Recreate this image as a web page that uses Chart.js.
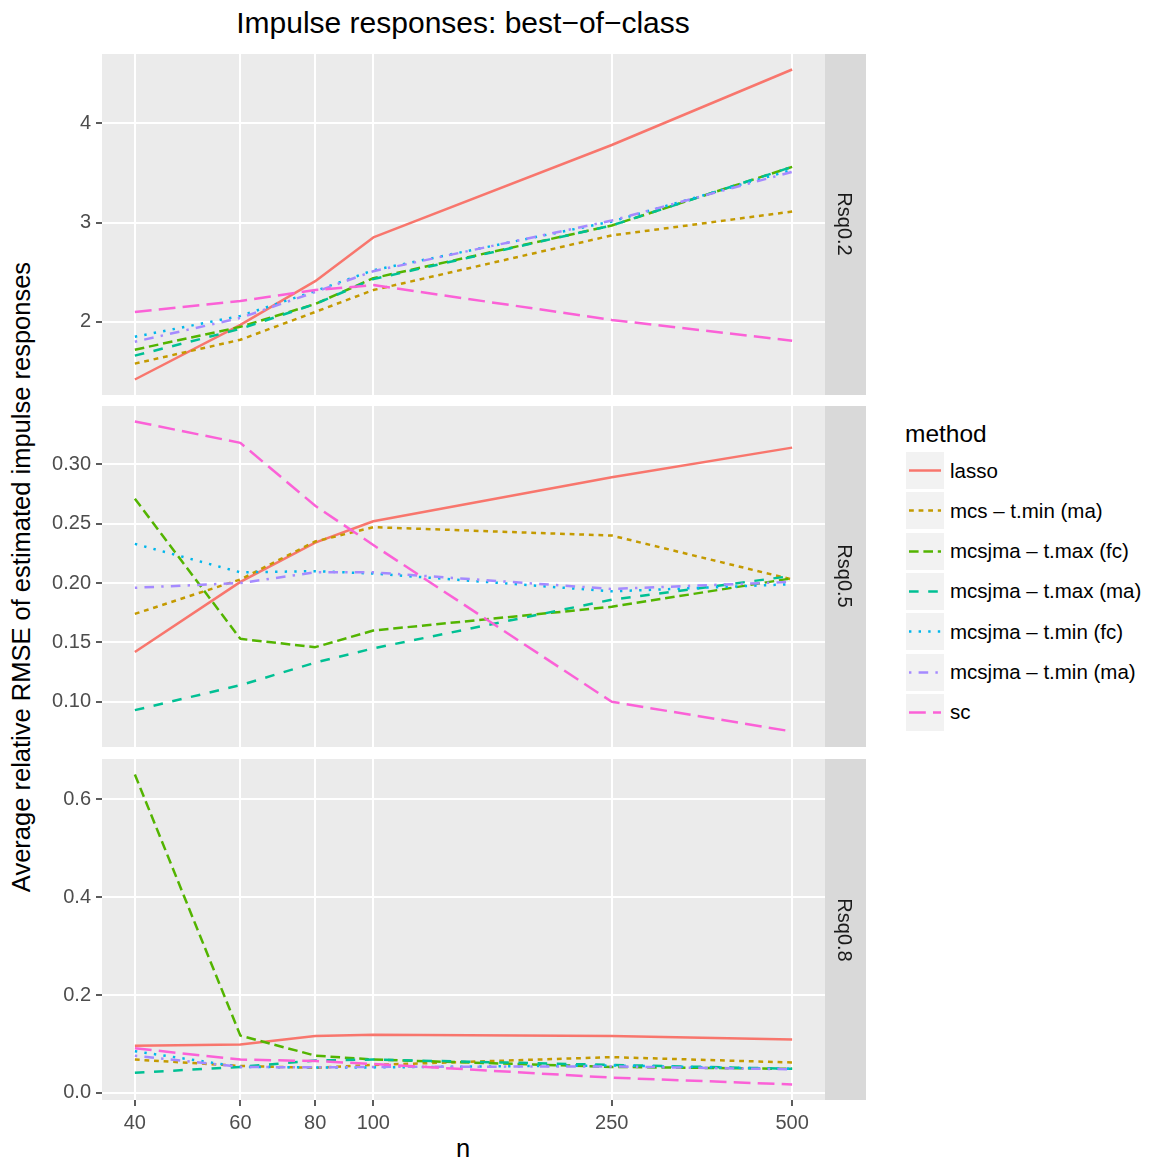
<!DOCTYPE html>
<html>
<head>
<meta charset="utf-8">
<title>Impulse responses: best-of-class</title>
<script src="https://cdn.jsdelivr.net/npm/chart.js@4.4.1/dist/chart.umd.min.js"></script>
<style>
  html, body { margin: 0; padding: 0; background: #fff; }
  body {
    width: 1155px; height: 1163px; position: relative; overflow: hidden;
    font-family: "Liberation Sans", Arial, Helvetica, sans-serif;
  }
  canvas { position: absolute; left: 0; }
  .txt { position: absolute; white-space: nowrap; line-height: 1; }
  .mid { transform: translate(-50%, -50%); }
  .title { font-size: 30px; color: #000; }
  .axis-title { font-size: 25.5px; color: #000; }
  .strip { font-size: 20px; color: #1a1a1a; transform: translate(-50%, -50%) rotate(90deg); }
  .key { position: absolute; width: 38px; height: 37px; background: #f2f2f2; }
  .key svg { position: absolute; left: 0; top: 0; }
  .lab { font-size: 20.5px; color: #000; transform: translateY(-50%); }
</style>
</head>
<body>

<div class="txt mid title" style="left:463px; top:23px;">Impulse responses: best−of−class</div>
<div class="txt axis-title" style="left:22px; top:577px; transform: translate(-50%, -50%) rotate(-90deg);">Average relative RMSE of estimated impulse responses</div>
<div class="txt mid axis-title" style="left:463px; top:1149px;">n</div>

<canvas id="p1" width="866" height="341" style="top:54px;"></canvas>
<canvas id="p2" width="866" height="341" style="top:406px;"></canvas>
<canvas id="p3" width="866" height="396" style="top:759px;"></canvas>

<div class="txt strip" style="left:845px; top:224px;">Rsq0.2</div>
<div class="txt strip" style="left:845px; top:576px;">Rsq0.5</div>
<div class="txt strip" style="left:845px; top:930px;">Rsq0.8</div>

<div class="txt" style="left:905px; top:422px; font-size:24.5px;">method</div>
<div id="legend"></div>

<script>
/* ── data ─────────────────────────────────────────── */
var nVals = [40, 60, 80, 100, 250, 500];

var methods = [
  'lasso',
  'mcs – t.min (ma)',
  'mcsjma – t.max (fc)',
  'mcsjma – t.max (ma)',
  'mcsjma – t.min (fc)',
  'mcsjma – t.min (ma)',
  'sc'
];

// Rsq0.2
var rsq02Lasso  = [1.42, 1.97, 2.41, 2.85, 3.78, 4.54];
var rsq02Mcs    = [1.58, 1.82, 2.10, 2.32, 2.87, 3.11];
var rsq02MaxFc  = [1.72, 1.95, 2.18, 2.44, 2.97, 3.56];
var rsq02MaxMa  = [1.66, 1.93, 2.18, 2.43, 2.97, 3.56];
var rsq02MinFc  = [1.85, 2.06, 2.31, 2.52, 3.01, 3.53];
var rsq02MinMa  = [1.80, 2.04, 2.30, 2.51, 3.02, 3.51];
var rsq02Sc     = [2.10, 2.21, 2.32, 2.37, 2.02, 1.81];

// Rsq0.5
var rsq05Lasso  = [0.142, 0.201, 0.234, 0.252, 0.289, 0.314];
var rsq05Mcs    = [0.174, 0.203, 0.235, 0.247, 0.240, 0.203];
var rsq05MaxFc  = [0.271, 0.153, 0.146, 0.160, 0.180, 0.204];
var rsq05MaxMa  = [0.093, 0.114, 0.133, 0.145, 0.186, 0.206];
var rsq05MinFc  = [0.233, 0.209, 0.210, 0.208, 0.193, 0.199];
var rsq05MinMa  = [0.196, 0.200, 0.209, 0.209, 0.195, 0.201];
var rsq05Sc     = [0.336, 0.318, 0.265, 0.232, 0.100, 0.075];

// Rsq0.8
var rsq08Lasso  = [0.096, 0.099, 0.116, 0.119, 0.116, 0.109];
var rsq08Mcs    = [0.068, 0.055, 0.051, 0.057, 0.073, 0.062];
var rsq08MaxFc  = [0.651, 0.117, 0.076, 0.068, 0.053, 0.049];
var rsq08MaxMa  = [0.041, 0.053, 0.066, 0.068, 0.057, 0.049];
var rsq08MinFc  = [0.085, 0.053, 0.052, 0.052, 0.056, 0.049];
var rsq08MinMa  = [0.076, 0.053, 0.052, 0.053, 0.054, 0.048];
var rsq08Sc     = [0.091, 0.068, 0.065, 0.059, 0.031, 0.017];

// tick values and labels per panel
var yTicks02 = [2, 3, 4];
var yLabels02 = ['2', '3', '4'];
var yTicks05 = [0.10, 0.15, 0.20, 0.25, 0.30];
var yLabels05 = ['0.10', '0.15', '0.20', '0.25', '0.30'];
var yTicks08 = [0.0, 0.2, 0.4, 0.6];
var yLabels08 = ['0.0', '0.2', '0.4', '0.6'];

/* ── style ────────────────────────────────────────── */
var colors = ['#F8766D', '#C49A00', '#53B400', '#00C094', '#00B6EB', '#A58AFF', '#FB61D7'];
var u = 2.4; // dash unit
var dashes = [
  [],
  [2 * u, 2 * u],
  [4 * u, 2 * u],
  [4 * u, 4 * u],
  [1 * u, 3 * u],
  [1 * u, 3 * u, 4 * u, 3 * u],
  [7 * u, 3 * u]
];
var fontFamily = '"Liberation Sans", Arial, Helvetica, sans-serif';

// ggplot-like 5% expansion on log x
var xSpan = nVals[nVals.length - 1] / nVals[0];
var xMin = nVals[0] / Math.pow(xSpan, 0.05);
var xMax = nVals[nVals.length - 1] * Math.pow(xSpan, 0.05);

// grey panel + facet strip behind the lines
var panelBg = {
  id: 'panelBg',
  beforeDraw: function (chart) {
    var a = chart.chartArea, c = chart.ctx;
    c.save();
    c.fillStyle = '#EBEBEB';
    c.fillRect(a.left, a.top, a.right - a.left, a.bottom - a.top);
    c.fillStyle = '#D9D9D9';
    c.fillRect(a.right, a.top, 41, a.bottom - a.top);
    c.restore();
  }
};

function makePanel(id, series, yTicks, yLabels, showX) {
  var all = [].concat.apply([], series);
  var lo = Math.min.apply(null, all);
  var hi = Math.max.apply(null, all);
  var pad = (hi - lo) * 0.05;

  var datasets = methods.map(function (m, i) {
    return {
      label: m,
      data: nVals.map(function (n, j) { return { x: n, y: series[i][j] }; }),
      borderColor: colors[i],
      borderWidth: 2.5,
      borderDash: dashes[i],
      borderCapStyle: 'butt',
      borderJoinStyle: 'round',
      pointRadius: 0,
      tension: 0,
      fill: false,
      order: methods.length - 1 - i
    };
  });

  new Chart(document.getElementById(id), {
    type: 'line',
    data: { datasets: datasets },
    options: {
      responsive: false,
      animation: false,
      devicePixelRatio: 1,
      layout: { padding: { left: 0, right: 41, top: 0, bottom: 0 } },
      plugins: { legend: { display: false }, tooltip: { enabled: false } },
      scales: {
        x: {
          type: 'logarithmic',
          min: xMin,
          max: xMax,
          afterBuildTicks: function (s) {
            s.ticks = nVals.map(function (v) { return { value: v }; });
          },
          afterFit: function (s) {
            s.height = showX ? 55 : 0;
            s.paddingLeft = 0; s.paddingRight = 0;
          },
          border: { display: false },
          grid: {
            color: '#FFFFFF', lineWidth: 2,
            drawTicks: showX, tickLength: 6, tickColor: '#333333', tickWidth: 1.6
          },
          ticks: {
            display: showX, padding: 5, color: '#4D4D4D', autoSkip: false, maxRotation: 0,
            font: { size: 20, family: fontFamily },
            callback: function (v) { return String(v); }
          }
        },
        y: {
          type: 'linear',
          min: lo - pad,
          max: hi + pad,
          afterBuildTicks: function (s) {
            s.ticks = yTicks.map(function (v) { return { value: v }; });
          },
          afterFit: function (s) {
            s.width = 102;
            s.paddingTop = 0; s.paddingBottom = 0;
          },
          border: { display: false },
          grid: {
            color: '#FFFFFF', lineWidth: 2,
            tickLength: 6, tickColor: '#333333', tickWidth: 1.6
          },
          ticks: {
            padding: 5, color: '#4D4D4D', autoSkip: false,
            font: { size: 20, family: fontFamily },
            callback: function (v, i) { return yLabels[i]; }
          }
        }
      }
    },
    plugins: [panelBg]
  });
}

makePanel('p1', [rsq02Lasso, rsq02Mcs, rsq02MaxFc, rsq02MaxMa, rsq02MinFc, rsq02MinMa, rsq02Sc],
  yTicks02, yLabels02, false);
makePanel('p2', [rsq05Lasso, rsq05Mcs, rsq05MaxFc, rsq05MaxMa, rsq05MinFc, rsq05MinMa, rsq05Sc],
  yTicks05, yLabels05, false);
makePanel('p3', [rsq08Lasso, rsq08Mcs, rsq08MaxFc, rsq08MaxMa, rsq08MinFc, rsq08MinMa, rsq08Sc],
  yTicks08, yLabels08, true);

// Legend keys
var legend = document.getElementById('legend');
methods.forEach(function (m, i) {
  var top = 452 + i * 40.3;
  var key = document.createElement('div');
  key.className = 'key';
  key.style.left = '906px';
  key.style.top = top + 'px';
  key.innerHTML = '<svg width="38" height="37"><line x1="3" y1="18.5" x2="35" y2="18.5" stroke="' +
    colors[i] + '" stroke-width="2.5" stroke-dasharray="' + (dashes[i].join(' ') || 'none') + '"/></svg>';
  legend.appendChild(key);

  var lab = document.createElement('div');
  lab.className = 'txt lab';
  lab.style.left = '950px';
  lab.style.top = (top + 18.5) + 'px';
  lab.textContent = m;
  legend.appendChild(lab);
});
</script>
</body>
</html>
